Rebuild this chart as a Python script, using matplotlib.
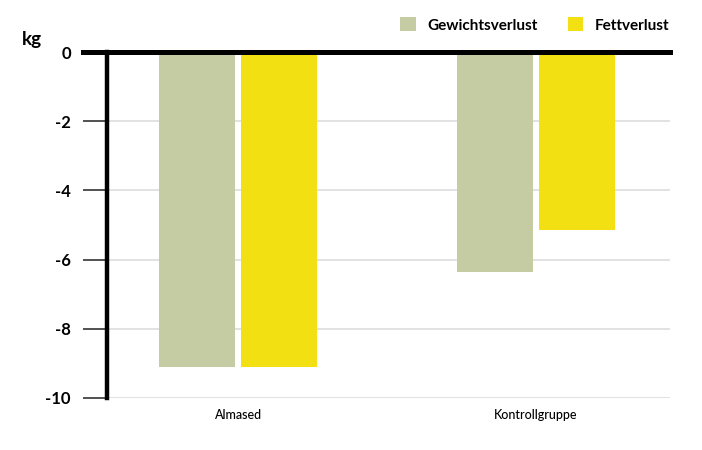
import numpy as np
import matplotlib.pyplot as plt
from matplotlib.patches import Patch

plt.rcParams['font.family'] = ['Lato', 'DejaVu Sans']

groups = ['Almased', 'Kontrollgruppe']
series = ['Gewichtsverlust', 'Fettverlust']
gewicht = [-9.1, -6.35]
fett = [-9.1, -5.15]
yticks = [0, -2, -4, -6, -8, -10]
colors = ['#c5cca4', '#f2e012']

fig = plt.figure(figsize=(7.02, 4.5), dpi=100)
ax = fig.add_axes([107/702, 52/450, 563/702, 346/450])

x = np.arange(len(groups))
w = 0.255
gap = 0.01
ax.bar(x - w/2 - gap, gewicht, width=w, color=colors[0], zorder=2)
ax.bar(x + w/2 + gap, fett, width=w, color=colors[1], zorder=2)

ax.set_xlim(-0.44, 1.45)
ax.set_ylim(-10, 0)
ax.set_yticks(yticks)
ax.set_yticklabels([str(t) for t in yticks], fontsize=12, fontweight='bold')
ax.set_xticks(x)
ax.set_xticklabels(groups, fontsize=9, fontweight='medium')
ax.tick_params(axis='x', length=0, pad=8)
ax.tick_params(axis='y', length=17, width=1.1, color='#222222', pad=9)

for s in ['top', 'right', 'bottom']:
    ax.spines[s].set_visible(False)
ax.spines['left'].set_linewidth(3.2)
ax.spines['left'].set_color('black')

ax.yaxis.grid(True, color='#dddddd', lw=1.2, zorder=0)
ax.set_axisbelow(True)

# thick zero line running past the y axis
ax.axhline(0, xmin=-0.043, xmax=1.0, color='black', lw=3.6, clip_on=False, zorder=3)

fig.text(22/702, 1 - 40/450, 'kg', fontsize=13.5, fontweight='bold', va='center', ha='left')

handles = [Patch(facecolor=c, edgecolor='none') for c in colors]
fig.legend(handles, series, loc='center right', bbox_to_anchor=(683/702, 1 - 25/450),
           ncol=2, frameon=False, handlelength=1.0, handleheight=1.0,
           handletextpad=0.75, columnspacing=2.0,
           prop={'weight': 'bold', 'size': 11})

fig.savefig('out.png', dpi=100, facecolor='white')
